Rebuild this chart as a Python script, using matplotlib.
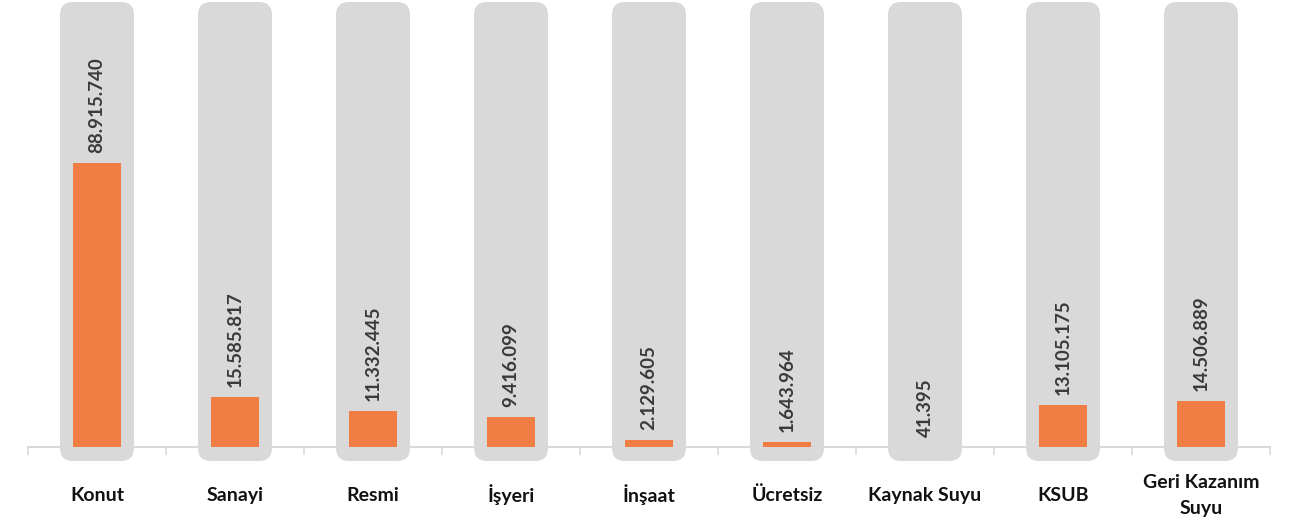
import matplotlib
matplotlib.use("Agg")
import matplotlib.pyplot as plt
from matplotlib.patches import FancyBboxPatch

categories = ["Konut", "Sanayi", "Resmi", "İşyeri", "İnşaat", "Ücretsiz",
              "Kaynak Suyu", "KSUB", "Geri Kazanım\nSuyu"]
values = [88915740, 15585817, 11332445, 9416099, 2129605, 1643964,
          41395, 13105175, 14506889]
value_labels = ["88.915.740", "15.585.817", "11.332.445", "9.416.099", "2.129.605",
                "1.643.964", "41.395", "13.105.175", "14.506.889"]

W, H = 1293, 526
fig = plt.figure(figsize=(W / 100, H / 100), dpi=100)
ax_left, ax_right = 28, 1270
ax_bottom, ax_top = 447, 2
ax = fig.add_axes([ax_left / W, 1 - ax_bottom / H, (ax_right - ax_left) / W,
                   (ax_bottom - ax_top) / H])

orange = "#F07E44"
gray = "#D9D9D9"

px_per_unit = 284 / values[0]
ymax = (ax_bottom - ax_top) / px_per_unit
ax.set_xlim(0, len(categories))
ax.set_ylim(0, ymax)

x_per_px = len(categories) / (ax_right - ax_left)
y_per_px = 1 / px_per_unit
aspect = y_per_px / x_per_px

gw = 74 * x_per_px
bw = 48 * x_per_px
below = 14 * y_per_px
for i, v in enumerate(values):
    xc = i + 0.5
    p = FancyBboxPatch((xc - gw / 2, -below), gw, ymax + below,
                       boxstyle="round,pad=0,rounding_size=%f" % (13 * x_per_px),
                       mutation_aspect=aspect, fc=gray, ec="none",
                       zorder=3, clip_on=False)
    ax.add_patch(p)
ax.bar([i + 0.5 for i in range(len(values))], values, width=bw, color=orange,
       zorder=4)

for i, (v, lab) in enumerate(zip(values, value_labels)):
    ax.annotate(lab, (i + 0.5, v), xytext=(0, 7), textcoords="offset points",
                rotation=90, ha="center", va="bottom", fontsize=13.5,
                fontweight="bold", color="#3A3A3A", family="Lato", zorder=5)

for i, c in enumerate(categories):
    ax.text(i + 0.5, -0.108, c, transform=ax.get_xaxis_transform(),
            ha="center", va="center", fontsize=14, fontweight="bold",
            color="#111111", family="Lato", linespacing=1.65)

for s in ["top", "right", "left"]:
    ax.spines[s].set_visible(False)
ax.spines["bottom"].set_color("#D9D9D9")
ax.spines["bottom"].set_linewidth(1.5)
ax.set_yticks([])
ax.set_xticks(range(len(categories) + 1))
ax.set_xticklabels([])
ax.tick_params(axis="x", length=6, width=1.2, color="#D9D9D9", direction="out")

fig.savefig("out.png", dpi=100)
